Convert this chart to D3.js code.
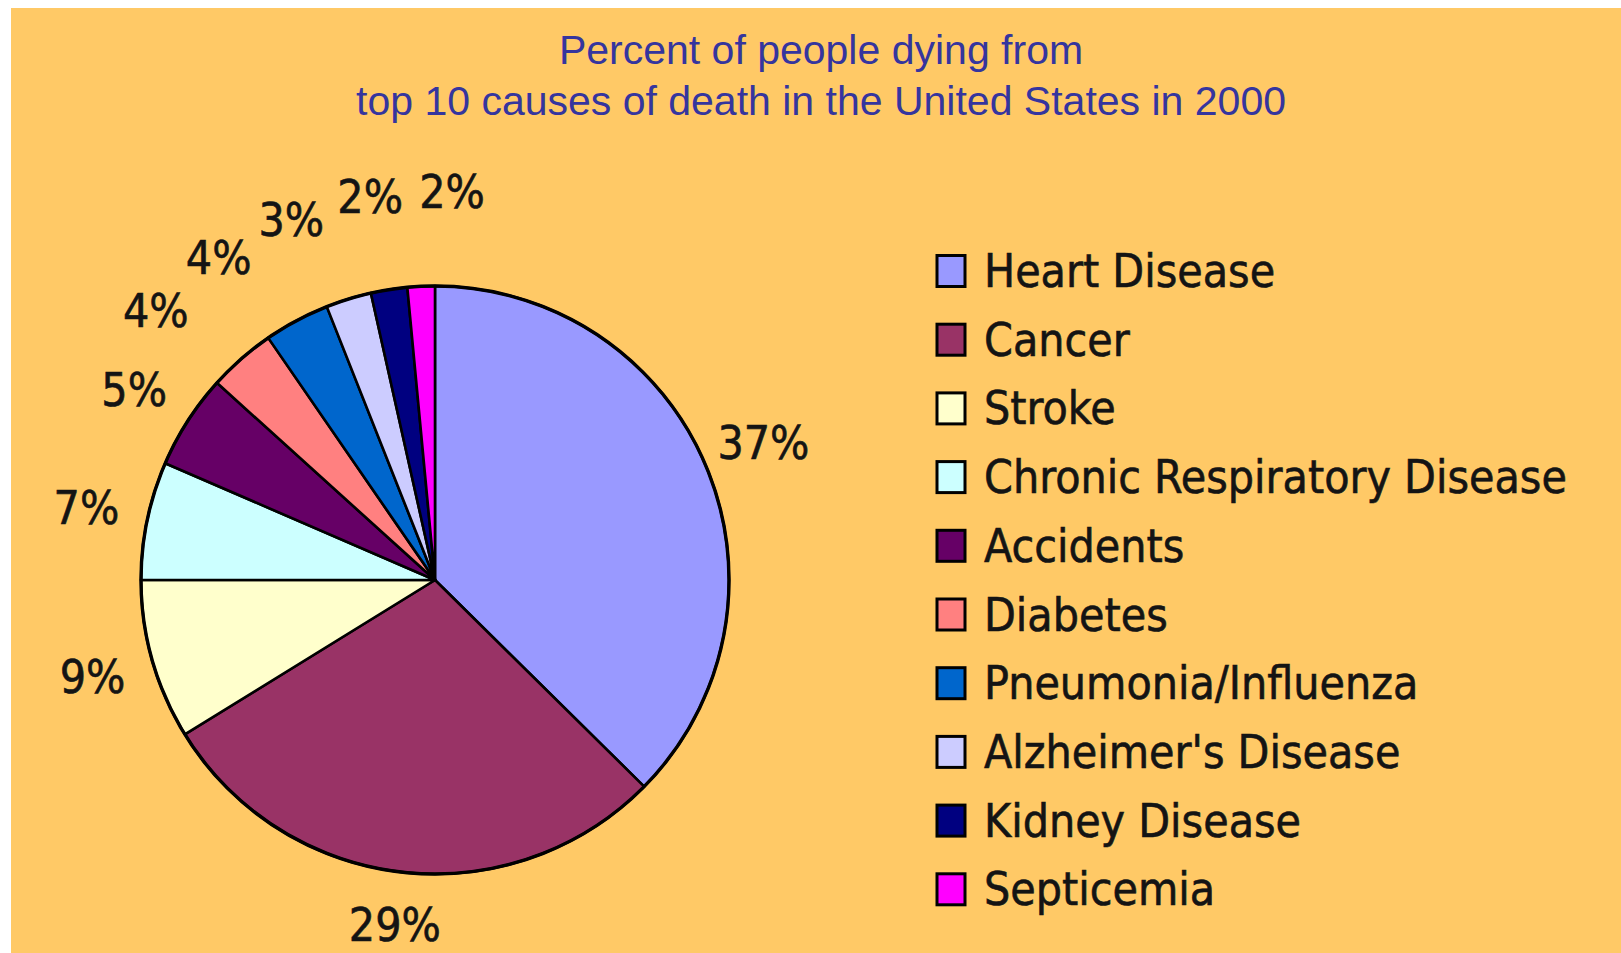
<!DOCTYPE html>
<html>
<head>
<meta charset="utf-8">
<script src="https://cdn.jsdelivr.net/npm/d3@7"></script>
<style>
  html, body { margin: 0; padding: 0; background: #ffffff; }
  svg { display: block; }
</style>
</head>
<body>
<svg id="chart" width="1621" height="953"></svg>
<script>
// Leading causes of death, United States, 2000 (share of the top ten, in percent)
const categories = [
  "Heart Disease", "Cancer", "Stroke", "Chronic Respiratory Disease", "Accidents",
  "Diabetes", "Pneumonia/Influenza", "Alzheimer's Disease", "Kidney Disease", "Septicemia"
];
const shares = [37.4, 28.8, 8.8, 6.5, 5.2, 3.7, 3.6, 2.5, 2.0, 1.5];
const sliceColors = [
  "#9999ff", "#993366", "#ffffcc", "#ccffff", "#660066",
  "#ff8080", "#0066cc", "#ccccff", "#000080", "#ff00ff"
];
const titleLines = [
  "Percent of people dying from",
  "top 10 causes of death in the United States in 2000"
];

const W = 1621, H = 953;
const svg = d3.select("#chart");

// panel background
svg.append("rect")
  .attr("x", 11).attr("y", 8)
  .attr("width", W - 11).attr("height", H - 8)
  .attr("fill", "#ffc966");

// title
svg.append("g")
  .selectAll("text")
  .data(titleLines)
  .join("text")
  .attr("x", 821)
  .attr("y", (d, i) => 64 + i * 51)
  .attr("text-anchor", "middle")
  .attr("font-family", "'Liberation Sans', Arial, sans-serif")
  .attr("font-size", 41)
  .attr("fill", "#35359e")
  .text(d => d);

const data = categories.map((name, i) => ({ name, value: shares[i], color: sliceColors[i] }));

// pie
const cx = 435, cy = 580, radius = 294;
const pie = d3.pie().sort(null).value(d => d.value)
  .startAngle(0).endAngle(2 * Math.PI);
const arcs = pie(data);
const arc = d3.arc().innerRadius(0).outerRadius(radius);

const pieG = svg.append("g").attr("transform", `translate(${cx},${cy})`);
pieG.selectAll("path")
  .data(arcs)
  .join("path")
  .attr("d", arc)
  .attr("fill", d => d.data.color)
  .attr("stroke", "#000")
  .attr("stroke-width", 2.6)
  .attr("stroke-linejoin", "round");
pieG.append("circle")
  .attr("r", radius)
  .attr("fill", "none")
  .attr("stroke", "#000")
  .attr("stroke-width", 3.4);

// percentage labels outside the pie; crowded small slices sit further out
// and are spread apart so they don't collide
const labelFont = "'DejaVu Sans Condensed', 'DejaVu Sans', sans-serif";
const labelSize = 46;
const labels = arcs.map(a => ({
  text: Math.round(a.data.value) + "%",
  angle: (a.startAngle + a.endAngle) / 2,
  r: a.data.value < 4.5 ? radius + 94 : radius + 62
}));
const pos = l => [Math.sin(l.angle) * l.r, -Math.cos(l.angle) * l.r];
const minDist = 82;
for (let iter = 0; iter < 400; iter++) {
  for (let i = 0; i < labels.length; i++) {
    const a = labels[i], b = labels[(i + 1) % labels.length];
    const [ax, ay] = pos(a), [bx, by] = pos(b);
    const d = Math.hypot(ax - bx, ay - by);
    if (d < minDist) {
      const rAvg = (a.r + b.r) / 2;
      const shift = (minDist - d) / rAvg * 0.5;
      a.angle -= shift * 0.6;
      b.angle += shift * 0.4;
    }
  }
}
// keep every label inside the canvas
const labelXY = labels.map(l => {
  const [x, y] = pos(l);
  return [x, Math.max(Math.min(y, H - cy - 28), 28 - cy)];
});

pieG.append("g")
  .selectAll("text")
  .data(labels)
  .join("text")
  .attr("x", (d, i) => labelXY[i][0])
  .attr("y", (d, i) => labelXY[i][1])
  .attr("text-anchor", "middle")
  .attr("dominant-baseline", "central")
  .attr("font-family", labelFont)
  .attr("font-size", labelSize)
  .attr("fill", "#141414")
  .attr("stroke", "#141414")
  .attr("stroke-width", 0.6)
  .text(d => d.text);

// legend
const legendX = 937, legendY = 271, rowGap = 68.7;
const legend = svg.append("g");
const rows = legend.selectAll("g")
  .data(data)
  .join("g")
  .attr("transform", (d, i) => `translate(${legendX},${legendY + i * rowGap})`);
rows.append("rect")
  .attr("x", 0).attr("y", -15.5)
  .attr("width", 28).attr("height", 31)
  .attr("fill", d => d.color)
  .attr("stroke", "#000")
  .attr("stroke-width", 3);
rows.append("text")
  .attr("x", 47)
  .attr("y", 0)
  .attr("dominant-baseline", "central")
  .attr("font-family", labelFont)
  .attr("font-size", labelSize)
  .attr("fill", "#141414")
  .attr("stroke", "#141414")
  .attr("stroke-width", 0.6)
  .text(d => d.name);
</script>
</body>
</html>
